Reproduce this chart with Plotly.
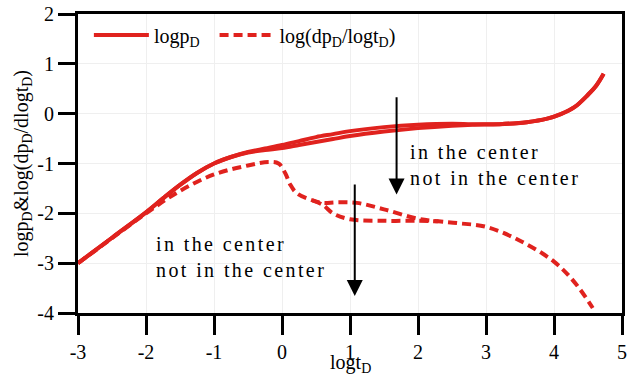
import plotly.graph_objects as go

# log(p_D) type curves: well in the center / not in the center
logt_p_center = [-3, -2.5, -2, -1.75, -1.5, -1.25, -1, -0.75, -0.5, -0.25, 0, 0.25, 0.5, 0.75, 1, 1.5, 2, 2.5, 2.8,
                 3.2, 3.6, 3.9, 4.1, 4.3, 4.5, 4.62, 4.73]
logp_center = [-3.0, -2.49, -1.98, -1.7, -1.43, -1.19, -1.0, -0.87, -0.77, -0.7, -0.63, -0.55, -0.47, -0.41, -0.35,
               -0.27, -0.22, -0.2, -0.21, -0.21, -0.17, -0.1, -0.01, 0.13, 0.38, 0.56, 0.8]

logt_p_off = [-3, -2.5, -2, -1.75, -1.5, -1.25, -1, -0.75, -0.5, -0.25, 0, 0.25, 0.5, 0.75, 1, 1.5, 2, 2.5, 2.8,
              3.2, 3.6, 3.9, 4.1, 4.3, 4.5, 4.62, 4.73]
logp_off = [-3.0, -2.49, -1.98, -1.7, -1.43, -1.19, -1.0, -0.87, -0.78, -0.73, -0.69, -0.63, -0.57, -0.51, -0.45,
            -0.36, -0.29, -0.24, -0.22, -0.21, -0.17, -0.1, -0.01, 0.13, 0.38, 0.56, 0.8]

# pressure derivative curves
logt_d_center = [-3, -2.5, -2, -1.5, -1, -0.5, -0.2, -0.05, 0.05, 0.12, 0.22, 0.45, 0.6, 0.8, 1.1, 1.5, 2.0, 2.3,
                 2.6, 3.0, 3.5, 4.0, 4.3, 4.57]
deriv_center = [-3.0, -2.5, -2.0, -1.55, -1.22, -1.04, -0.97, -1.0, -1.2, -1.42, -1.6, -1.74, -1.79, -1.78, -1.79,
                -1.92, -2.11, -2.16, -2.2, -2.27, -2.55, -2.97, -3.38, -3.9]

logt_d_off = [0.45, 0.6, 0.75, 1.0, 1.5, 2.0, 2.3]
deriv_off = [-1.74, -1.83, -2.0, -2.12, -2.15, -2.15, -2.16]

x_ticks = [-3, -2, -1, 0, 1, 2, 3, 4, 5]
x_tick_text = ["-3", "-2", "-1", "0", "1", "2", "3", "4", "5"]
y_ticks = [-4, -3, -2, -1, 0, 1, 2]
y_tick_text = ["-4", "-3", "-2", "-1", "0", "1", "2"]

RED = "#e0221e"
FONT = "Liberation Serif"
LW = 4
DASH = "9px,5px"

fig = go.Figure()
fig.add_trace(go.Scatter(x=logt_p_center, y=logp_center, mode="lines",
                         line=dict(color=RED, width=LW, shape="spline"),
                         name="logp<sub>D</sub>\u00a0\u00a0", showlegend=True))
fig.add_trace(go.Scatter(x=logt_p_off, y=logp_off, mode="lines",
                         line=dict(color=RED, width=LW, shape="spline"),
                         showlegend=False))
fig.add_trace(go.Scatter(x=logt_d_center, y=deriv_center, mode="lines",
                         line=dict(color=RED, width=LW, shape="spline", dash=DASH),
                         name="log(dp<sub>D</sub>/logt<sub>D</sub>)", showlegend=True))
fig.add_trace(go.Scatter(x=logt_d_off, y=deriv_off, mode="lines",
                         line=dict(color=RED, width=LW, shape="spline", dash=DASH),
                         showlegend=False))

label = ('<span style="letter-spacing:2.4px">in the center<br>'
         'not in the center</span>')

annotations = [
    dict(x=1.85, y=-1.04, xref="x", yref="y", text=label, showarrow=False,
         xanchor="left", yanchor="middle", align="left",
         font=dict(family=FONT, size=20, color="black")),
    dict(x=-1.88, y=-2.87, xref="x", yref="y", text=label, showarrow=False,
         xanchor="left", yanchor="middle", align="left",
         font=dict(family=FONT, size=20, color="black")),
    dict(x=1.685, y=-1.62, ax=1.685, ay=0.36, xref="x", yref="y",
         axref="x", ayref="y", text="", showarrow=True,
         arrowhead=2, arrowsize=1.6, arrowwidth=2, arrowcolor="black"),
    dict(x=1.07, y=-3.66, ax=1.07, ay=-1.39, xref="x", yref="y",
         axref="x", ayref="y", text="", showarrow=True,
         arrowhead=2, arrowsize=1.6, arrowwidth=2, arrowcolor="black"),
    # x-axis title
    dict(x=0.5, y=-0.122, xref="paper", yref="paper", text="logt<sub>D</sub>",
         showarrow=False, xanchor="center", yanchor="top",
         font=dict(family=FONT, size=20, color="black")),
]

axis_common = dict(
    showline=True, linecolor="black", linewidth=3, mirror=True,
    ticks="outside", tickcolor="black", tickwidth=3,
    showgrid=True, gridcolor="#efefef", gridwidth=1,
    zeroline=False, automargin=False,
    tickfont=dict(family=FONT, size=20, color="black"),
)

fig.update_layout(
    width=627, height=376,
    margin=dict(l=78, r=5, t=14, b=63),
    paper_bgcolor="white", plot_bgcolor="white",
    font=dict(family=FONT, size=20, color="black"),
    xaxis=dict(range=[-3, 5], tickvals=x_ticks, ticktext=x_tick_text, ticklen=19,
               **axis_common),
    yaxis=dict(range=[-4, 2], tickvals=y_ticks, ticktext=y_tick_text, ticklen=17,
               title=dict(text="logp<sub>D</sub>&log(dp<sub>D</sub>/dlogt<sub>D</sub>)",
                          font=dict(family=FONT, size=20), standoff=4),
               **axis_common),
    legend=dict(orientation="h", x=0.02, y=0.995, xanchor="left", yanchor="top",
                bgcolor="rgba(0,0,0,0)", font=dict(family=FONT, size=20),
                itemwidth=55),
    annotations=annotations,
    showlegend=True,
)

fig.write_html("out.html")
